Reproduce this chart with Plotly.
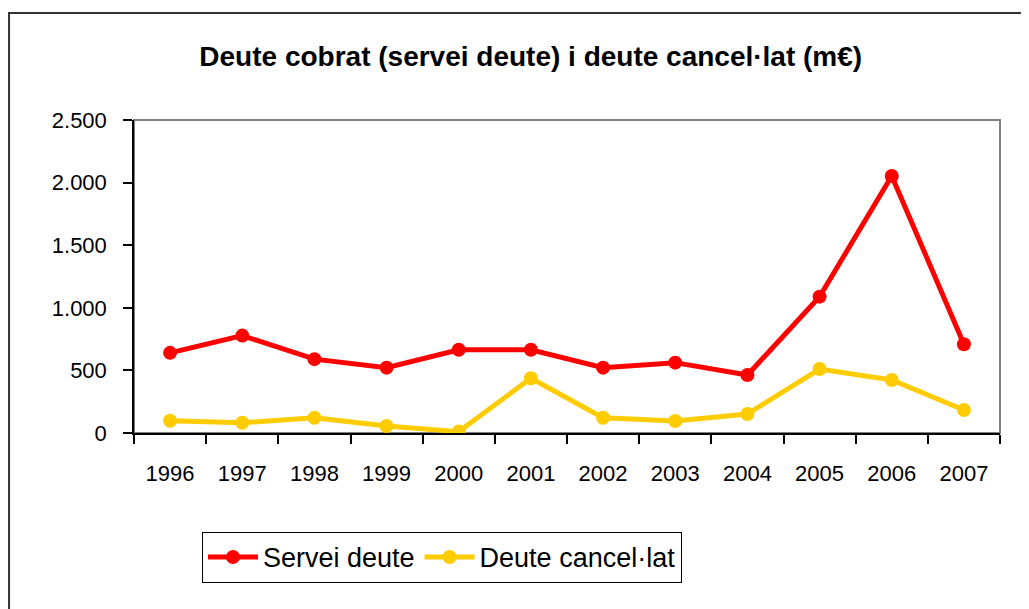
import plotly.graph_objects as go

years = ["1996", "1997", "1998", "1999", "2000", "2001", "2002", "2003", "2004", "2005", "2006", "2007"]
servei_deute = [640, 778, 590, 522, 665, 665, 522, 562, 463, 1089, 2053, 709]
deute_cancellat = [98, 82, 122, 56, 11, 437, 122, 96, 152, 511, 423, 184]

FONT = "Liberation Sans, Arial, sans-serif"

fig = go.Figure()
fig.add_trace(go.Scatter(x=years, y=servei_deute, name="Servei deute", mode="lines+markers",
                         line=dict(color="#FF0000", width=5),
                         marker=dict(color="#FF0000", size=14)))
fig.add_trace(go.Scatter(x=years, y=deute_cancellat, name="Deute cancel·lat", mode="lines+markers",
                         line=dict(color="#FFCC00", width=5),
                         marker=dict(color="#FFCC00", size=14)))

fig.update_layout(
    width=1021, height=601,
    margin=dict(l=126, r=29, t=112, b=176),
    paper_bgcolor="white", plot_bgcolor="white",
    separators=",.",
    font=dict(family=FONT, color="black"),
    title=dict(text="<b>Deute cobrat (servei deute) i deute cancel·lat (m€)</b>",
               x=0.512, xanchor="center", y=0.92, yanchor="middle",
               font=dict(size=28, family=FONT, color="black")),
    showlegend=True,
    legend=dict(orientation="h", x=0.0785, xanchor="left", y=-0.316, yanchor="top",
                bordercolor="black", borderwidth=1, bgcolor="white",
                font=dict(size=27, family=FONT), itemwidth=50, tracegroupgap=0),
    xaxis=dict(type="category", showline=True, linecolor="black", linewidth=2,
               ticks="outside", ticklen=9, tickcolor="black", tickwidth=1.5,
               tickson="boundaries", showgrid=False, zeroline=False,
               tickfont=dict(size=22, family=FONT), ticklabelstandoff=20,
               range=[-0.5, 11.5]),
    yaxis=dict(range=[0, 2500], tickvals=[0, 500, 1000, 1500, 2000, 2500],
               tickformat=",d", showline=True, linecolor="black", linewidth=1.5,
               ticks="outside", ticklen=9, tickcolor="black", tickwidth=1.5,
               showgrid=False, zeroline=False,
               tickfont=dict(size=22, family=FONT), ticklabelstandoff=12),
    shapes=[
        dict(type="rect", xref="paper", yref="paper", x0=0, x1=1, y0=0, y1=1,
             line=dict(color="#808080", width=2), layer="below"),
        dict(type="rect", xref="paper", yref="paper", x0=-0.1443, x1=1.031, y0=-0.6, y1=1.342,
             line=dict(color="#333333", width=2), layer="below"),
    ],
)

fig.write_html("out.html")
